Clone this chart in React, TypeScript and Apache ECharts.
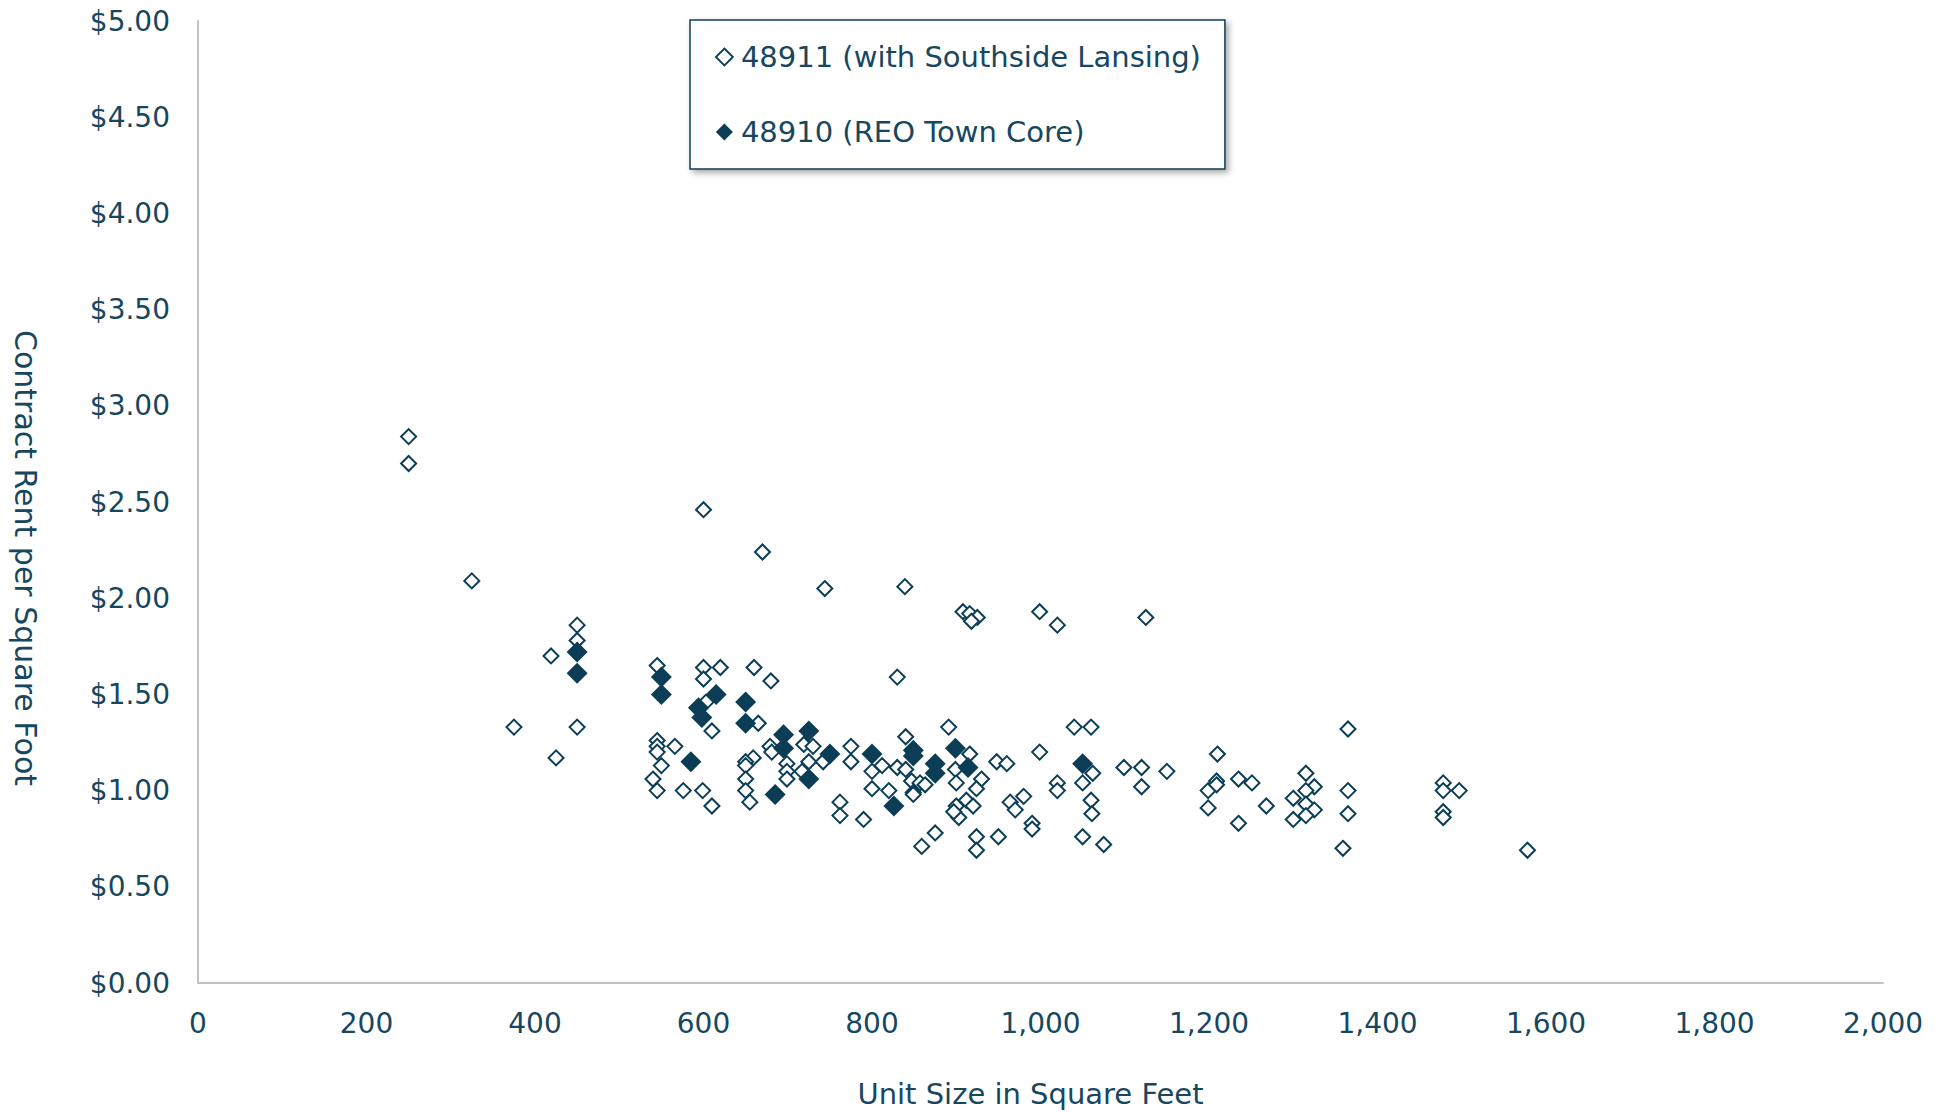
import React, { useEffect, useRef } from "react";
import * as echarts from "echarts";

// 48911 (with Southside Lansing) — open diamonds
const southsideSize = [
  250, 250, 325, 375, 419, 425, 450, 450, 450,
  545, 545, 545, 545, 550, 540, 545, 566, 576,
  600, 600, 600, 620, 603, 610, 599, 610,
  660, 680, 670, 665, 659, 650, 650, 650, 650, 655,
  679, 681, 699, 699, 699, 719, 730, 725, 717, 742,
  744, 762, 762, 775, 775, 790,
  800, 800, 812, 820, 830, 830, 839, 840, 840,
  847, 849, 849, 857, 863, 859, 875,
  891, 899, 900, 900, 903, 897, 912, 920, 916,
  908, 916, 925, 918,
  930, 924, 924, 924, 948, 960, 950, 964, 970, 980, 990, 990,
  999, 1020, 999, 1020, 1020, 1040, 1060, 1050, 1062, 1060, 1061, 1050, 1075,
  1099, 1120, 1120, 1125, 1150,
  1199, 1209, 1209, 1199, 1210, 1235, 1251, 1268, 1235,
  1315, 1325, 1315, 1300, 1315, 1325, 1315, 1300,
  1365, 1365, 1365, 1359,
  1478, 1478, 1497, 1478, 1478, 1578,
];
const southsideRent = [
  2.84, 2.70, 2.09, 1.33, 1.70, 1.17, 1.86, 1.78, 1.33,
  1.65, 1.26, 1.23, 1.20, 1.13, 1.06, 1.00, 1.23, 1.00,
  2.46, 1.64, 1.58, 1.64, 1.46, 1.31, 1.00, 0.92,
  1.64, 1.57, 2.24, 1.35, 1.17, 1.15, 1.13, 1.06, 1.00, 0.94,
  1.23, 1.20, 1.14, 1.10, 1.06, 1.24, 1.23, 1.15, 1.10, 1.15,
  2.05, 0.94, 0.87, 1.23, 1.15, 0.85,
  1.10, 1.01, 1.13, 1.00, 1.59, 1.12, 2.06, 1.28, 1.11,
  1.05, 0.99, 0.98, 1.04, 1.03, 0.71, 0.78,
  1.33, 1.11, 1.04, 0.92, 0.86, 0.89, 0.95, 0.92, 1.19,
  1.93, 1.92, 1.90, 1.88,
  1.06, 1.01, 0.76, 0.69, 1.15, 1.14, 0.76, 0.94, 0.90, 0.97, 0.83, 0.80,
  1.93, 1.86, 1.20, 1.04, 1.00, 1.33, 1.33, 1.04, 1.09, 0.95, 0.88, 0.76, 0.72,
  1.12, 1.12, 1.02, 1.90, 1.10,
  1.00, 1.05, 1.03, 0.91, 1.19, 1.06, 1.04, 0.92, 0.83,
  1.09, 1.02, 1.00, 0.96, 0.93, 0.90, 0.87, 0.85,
  1.32, 1.00, 0.88, 0.70,
  1.04, 1.00, 1.00, 0.89, 0.86, 0.69,
];

// 48910 (REO Town Core) — filled diamonds
const reoSize = [
  450, 450, 550, 550, 615, 594, 598, 650, 650, 585,
  695, 695, 725, 725, 685, 750, 800, 849, 849, 826,
  875, 875, 899, 914, 1050,
];
const reoRent = [
  1.72, 1.61, 1.59, 1.50, 1.50, 1.43, 1.38, 1.46, 1.35, 1.15,
  1.29, 1.22, 1.31, 1.06, 0.98, 1.19, 1.19, 1.21, 1.18, 0.92,
  1.14, 1.09, 1.22, 1.12, 1.14,
];

const seriesNames = ["48911 (with Southside Lansing)", "48910 (REO Town Core)"];
const xTitle = "Unit Size in Square Feet";
const yTitle = "Contract Rent per Square Foot";
const xTicks = { min: 0, max: 2000, interval: 200 };
const yTicks = { min: 0, max: 5, interval: 0.5 };

const TEAL = "#0b3e56";
const TEXT = "#17475f";
const AXIS = "#c3c3c3";
const FONT = "'DejaVu Sans', 'Open Sans', sans-serif";

export default function App() {
  const ref = useRef<HTMLDivElement>(null);
  useEffect(() => {
    if (!ref.current) return;
    const chart = echarts.init(ref.current, undefined, { renderer: "svg" });
    const openData = southsideSize.map((s, i) => [s, southsideRent[i]]);
    const filledData = reoSize.map((s, i) => [s, reoRent[i]]);
    chart.setOption({
      animation: false,
      backgroundColor: "#ffffff",
      textStyle: { fontFamily: FONT },
      grid: { left: 198, right: 65, top: 21, bottom: 129, containLabel: false, outerBoundsMode: "none" },
      graphic: [
        {
          type: "text",
          x: 25,
          y: 558,
          rotation: -Math.PI / 2,
          style: {
            text: yTitle,
            fill: TEXT,
            font: `30px ${FONT}`,
            align: "center",
            verticalAlign: "middle",
          },
        },
      ],
      legend: {
        orient: "vertical",
        left: 690,
        top: 20,
        padding: [20, 24, 20, 25],
        itemGap: 41,
        itemWidth: 17,
        itemHeight: 17,
        backgroundColor: "#ffffff",
        borderColor: TEAL,
        borderWidth: 1.5,
        shadowBlur: 6,
        shadowColor: "rgba(0,0,0,0.35)",
        shadowOffsetX: 3,
        shadowOffsetY: 3,
        textStyle: { fontSize: 29, color: TEXT, fontFamily: FONT, lineHeight: 34, padding: [0, 0, 0, 3] },
        data: [
          { name: seriesNames[0], icon: "diamond", itemStyle: { color: "#ffffff", borderColor: TEAL, borderWidth: 1.8 } },
          { name: seriesNames[1], icon: "diamond", itemStyle: { color: TEAL } },
        ],
      },
      xAxis: {
        type: "value",
        min: xTicks.min,
        max: xTicks.max,
        interval: xTicks.interval,
        name: xTitle,
        nameLocation: "middle",
        nameGap: 96,
        nameTextStyle: { fontSize: 29, color: TEXT, fontFamily: FONT, padding: [0, 20, 0, 0] },
        axisLine: { show: true, onZero: false, lineStyle: { color: AXIS, width: 2 } },
        axisTick: { show: false },
        splitLine: { show: false },
        axisLabel: {
          fontSize: 28,
          color: TEXT,
          fontFamily: FONT,
          margin: 26,
          formatter: (v: number) => v.toLocaleString("en-US"),
        },
      },
      yAxis: {
        type: "value",
        min: yTicks.min,
        max: yTicks.max,
        interval: yTicks.interval,
        axisLine: { show: true, onZero: false, lineStyle: { color: AXIS, width: 2 } },
        axisTick: { show: false },
        splitLine: { show: false },
        axisLabel: {
          fontSize: 28,
          color: TEXT,
          fontFamily: FONT,
          margin: 28,
          formatter: (v: number) => "$" + v.toFixed(2),
        },
      },
      series: [
        {
          name: seriesNames[0],
          type: "scatter",
          symbol: "diamond",
          symbolSize: 15,
          data: openData,
          itemStyle: { color: "#ffffff", borderColor: TEAL, borderWidth: 2, opacity: 1 },
          z: 2,
        },
        {
          name: seriesNames[1],
          type: "scatter",
          symbol: "diamond",
          symbolSize: 21,
          data: filledData,
          itemStyle: { color: TEAL, opacity: 1 },
          z: 3,
        },
      ],
    });
    return () => chart.dispose();
  }, []);
  return (
    <div
      ref={ref}
      style={{ position: "fixed", left: 0, top: 0, width: 1948, height: 1112, background: "#fff" }}
    />
  );
}
